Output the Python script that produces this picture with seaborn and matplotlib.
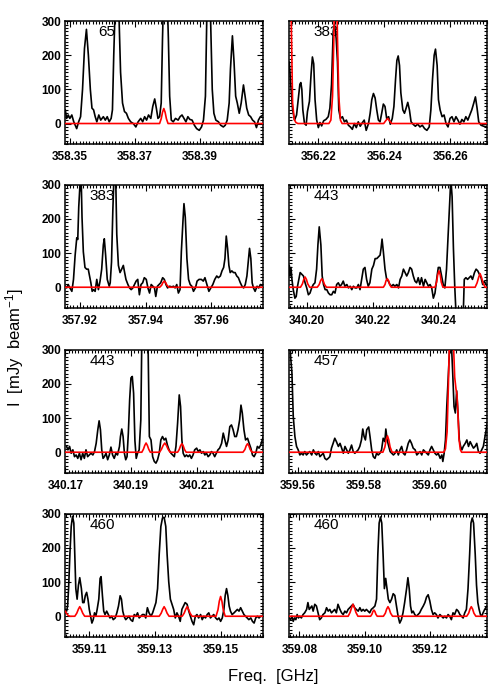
import matplotlib
matplotlib.use("Agg")
import matplotlib.pyplot as plt
from matplotlib.ticker import FixedLocator, MultipleLocator, FormatStrFormatter
import pandas as pd
import seaborn as sns

# ---------------- data ----------------
panel_labels = ["65", "383", "383", "443", "443", "457", "460", "460"]

tick_values = [
    [358.35, 358.37, 358.39],
    [356.22, 356.24, 356.26],
    [357.92, 357.94, 357.96],
    [340.20, 340.22, 340.24],
    [340.17, 340.19, 340.21],
    [359.56, 359.58, 359.60],
    [359.11, 359.13, 359.15],
    [359.08, 359.10, 359.12],
]

freq_ranges = [
    (358.3486, 358.4095),
    (356.2112, 356.2712),
    (357.9155, 357.9759),
    (340.1947, 340.2549),
    (340.1700, 340.2303),
    (359.5573, 359.6174),
    (359.1027, 359.1630),
    (359.0769, 359.1375),
]

# panel 1
p1_freq = [358.3486, 358.3490, 358.3495, 358.3500, 358.3506, 358.3512, 358.3521, 358.3527, 358.3533, 358.3539,
           358.3545, 358.3551, 358.3557, 358.3563, 358.3568, 358.3573, 358.3578, 358.3583, 358.3589, 358.3595,
           358.3603, 358.3609, 358.3615, 358.3621, 358.3627, 358.3631, 358.3635, 358.3640, 358.3646, 358.3651,
           358.3656, 358.3662, 358.3668, 358.3674, 358.3680, 358.3687, 358.3695, 358.3703, 358.3710, 358.3718,
           358.3724, 358.3730, 358.3736, 358.3742, 358.3749, 358.3755, 358.3761, 358.3766, 358.3771, 358.3776,
           358.3781, 358.3785, 358.3789, 358.3798, 358.3803, 358.3807, 358.3812, 358.3818, 358.3825, 358.3833,
           358.3839, 358.3845, 358.3851, 358.3857, 358.3863, 358.3869, 358.3876, 358.3883, 358.3890, 358.3898,
           358.3905, 358.3911, 358.3917, 358.3921, 358.3927, 358.3933, 358.3938, 358.3943, 358.3949, 358.3957,
           358.3964, 358.3972, 358.3978, 358.3984, 358.3990, 358.3994, 358.4000, 358.4005, 358.4010, 358.4015,
           358.4021, 358.4027, 358.4034, 358.4039, 358.4044, 358.4050, 358.4056, 358.4062, 358.4068, 358.4074,
           358.4080, 358.4086, 358.4095]
p1_flux = [40, 15, 25, 15, 25, 5, -15, 5, 20, 100,
           220, 276, 200, 100, 45, 40, 20, 5, 25, 10,
           20, 10, 20, 5, 15, 40, 200, 360, 380, 320,
           150, 60, 35, 30, 15, 5, 0, -10, 5, 15,
           5, 20, 10, 25, 15, 50, 72, 45, 15, 20,
           60, 250, 400, 420, 250, 80, 10, 5, 15, 10,
           20, 25, 15, 5, 20, 12, 10, -5, -15, -20,
           -10, 10, 80, 300, 420, 300, 100, 30, 10, 5,
           -5, -10, -5, 10, 60, 160, 257, 180, 80, 60,
           30, 60, 113, 80, 45, 25, 20, 10, 5, -12,
           10, 20, 25]
p1_model_freq = [358.3486, 358.3776, 358.3781, 358.3785, 358.3789, 358.3793, 358.3797, 358.3802, 358.4095]
p1_model_flux = [0, 0, 14, 33, 44, 33, 14, 0, 0]

# panel 2
p2_freq = [356.2112, 356.2116, 356.2122, 356.2128, 356.2134, 356.2139, 356.2144, 356.2147, 356.2150, 356.2153,
           356.2158, 356.2163, 356.2167, 356.2173, 356.2178, 356.2182, 356.2186, 356.2190, 356.2195, 356.2200,
           356.2205, 356.2210, 356.2216, 356.2223, 356.2230, 356.2235, 356.2240, 356.2245, 356.2249, 356.2254,
           356.2258, 356.2262, 356.2267, 356.2273, 356.2279, 356.2285, 356.2291, 356.2297, 356.2303, 356.2309,
           356.2315, 356.2321, 356.2327, 356.2333, 356.2339, 356.2345, 356.2352, 356.2357, 356.2362, 356.2367,
           356.2372, 356.2377, 356.2382, 356.2387, 356.2392, 356.2397, 356.2402, 356.2407, 356.2413, 356.2418,
           356.2424, 356.2429, 356.2434, 356.2438, 356.2442, 356.2446, 356.2450, 356.2456, 356.2461, 356.2466,
           356.2471, 356.2476, 356.2481, 356.2487, 356.2494, 356.2501, 356.2508, 356.2515, 356.2522, 356.2529,
           356.2536, 356.2541, 356.2546, 356.2551, 356.2555, 356.2560, 356.2564, 356.2569, 356.2575, 356.2581,
           356.2587, 356.2593, 356.2599, 356.2605, 356.2611, 356.2617, 356.2623, 356.2629, 356.2635, 356.2641,
           356.2647, 356.2653, 356.2659, 356.2665, 356.2671, 356.2676, 356.2681, 356.2686, 356.2693, 356.2701,
           356.2711]
p2_flux = [180, 120, 40, 10, 25, 70, 115, 120, 100, 40,
           0, -5, 35, 65, 145, 195, 175, 70, 10, -12,
           3, -7, 8, 12, 20, 45, 115, 270, 290, 250,
           180, 40, 15, 20, 5, 10, -5, -10, -17, 0,
           -12, 5, -8, 2, 10, -20, 0, 30, 70, 88,
           75, 40, 10, 5, 30, 57, 50, 15, 20, -2,
           15, 50, 130, 185, 198, 170, 90, 40, 30, 45,
           62, 40, 5, -2, -8, -2, -10, -5, -15, -20,
           -10, 40, 130, 200, 218, 170, 70, 40, 20, 25,
           0, -10, 15, 20, 5, 20, 10, -2, 12, 5,
           20, 10, 25, 40, 60, 78, 45, 5, -5, -8,
           -10]
p2_model_freq = [356.2112, 356.2117, 356.2122, 356.2127, 356.2132, 356.2138, 356.2232, 356.2238, 356.2243,
                 356.2247, 356.2250, 356.2255, 356.2258, 356.2262, 356.2267, 356.2272, 356.2398, 356.2404,
                 356.2410, 356.2416, 356.2422, 356.2712]
p2_model_flux = [600, 350, 60, 12, 3, 0, 0, 10, 80, 250, 420, 420, 250, 80, 10, 0, 0, 8, 15, 8, 0, 0]

# panel 3
p3_freq = [357.9155, 357.9159, 357.9164, 357.9169, 357.9175, 357.9180, 357.9185, 357.9190, 357.9193, 357.9196,
           357.9200, 357.9203, 357.9206, 357.9210, 357.9215, 357.9220, 357.9225, 357.9229, 357.9233, 357.9237,
           357.9241, 357.9246, 357.9251, 357.9256, 357.9261, 357.9266, 357.9271, 357.9274, 357.9278, 357.9283,
           357.9289, 357.9292, 357.9296, 357.9300, 357.9304, 357.9308, 357.9312, 357.9317, 357.9322, 357.9327,
           357.9332, 357.9336, 357.9340, 357.9346, 357.9351, 357.9356, 357.9361, 357.9366, 357.9371, 357.9376,
           357.9381, 357.9386, 357.9391, 357.9396, 357.9402, 357.9407, 357.9412, 357.9417, 357.9422, 357.9427,
           357.9431, 357.9436, 357.9441, 357.9446, 357.9452, 357.9457, 357.9462, 357.9467, 357.9473, 357.9480,
           357.9485, 357.9490, 357.9495, 357.9500, 357.9505, 357.9509, 357.9514, 357.9517, 357.9521, 357.9526,
           357.9531, 357.9536, 357.9541, 357.9546, 357.9552, 357.9557, 357.9563, 357.9570, 357.9576, 357.9581,
           357.9587, 357.9593, 357.9599, 357.9605, 357.9611, 357.9617, 357.9622, 357.9628, 357.9633, 357.9638,
           357.9642, 357.9646, 357.9650, 357.9654, 357.9658, 357.9663, 357.9668, 357.9673, 357.9678, 357.9683,
           357.9689, 357.9694, 357.9699, 357.9704, 357.9709, 357.9714, 357.9717, 357.9721, 357.9725, 357.9729,
           357.9734, 357.9740, 357.9745, 357.9750, 357.9760]
p3_flux = [3, -2, 8, -2, -12, 23, 94, 145, 140, 235,
           305, 340, 205, 104, 58, 53, 53, 33, 13, -12,
           -7, -12, 23, -7, 18, 53, 124, 142, 94, 23,
           3, 13, 74, 225, 340, 360, 155, 64, 43, 53,
           64, 43, 23, 8, -2, -7, -2, 8, 18, 23,
           -22, 8, 13, 28, 23, -2, -17, 8, 3, -2,
           -27, 3, 8, 13, 28, 23, 8, -2, 3, 1,
           3, -2, 8, -17, -7, 104, 195, 245, 205, 84,
           23, 8, 3, -12, -2, 18, 23, 23, 18, 28,
           8, -12, -2, 8, 23, 33, 28, 33, 48, 58,
           84, 150, 114, 64, 43, 48, 43, 43, 33, 28,
           13, 3, -2, 8, 33, 84, 114, 84, 13, -2,
           -12, 3, -2, 8, 3]
p3_model_freq = [357.9155, 357.9443, 357.9449, 357.9453, 357.9457, 357.9461, 357.9465, 357.9471, 357.9760]
p3_model_flux = [0, 0, 6, 14, 18, 14, 6, 0, 0]

# panel 4
p4_freq = [340.1947, 340.1949, 340.1952, 340.1955, 340.1959, 340.1964, 340.1968, 340.1972, 340.1976, 340.1980,
           340.1985, 340.1990, 340.1995, 340.2000, 340.2005, 340.2010, 340.2015, 340.2020, 340.2025, 340.2030,
           340.2034, 340.2038, 340.2043, 340.2047, 340.2051, 340.2056, 340.2061, 340.2066, 340.2071, 340.2076,
           340.2081, 340.2086, 340.2091, 340.2096, 340.2101, 340.2106, 340.2111, 340.2116, 340.2122, 340.2127,
           340.2132, 340.2137, 340.2142, 340.2147, 340.2152, 340.2157, 340.2162, 340.2167, 340.2172, 340.2177,
           340.2182, 340.2187, 340.2192, 340.2198, 340.2203, 340.2208, 340.2213, 340.2218, 340.2223, 340.2226,
           340.2229, 340.2233, 340.2238, 340.2243, 340.2248, 340.2253, 340.2258, 340.2263, 340.2268, 340.2274,
           340.2279, 340.2284, 340.2289, 340.2294, 340.2299, 340.2304, 340.2309, 340.2314, 340.2319, 340.2324,
           340.2329, 340.2334, 340.2339, 340.2344, 340.2349, 340.2355, 340.2360, 340.2365, 340.2370, 340.2375,
           340.2380, 340.2385, 340.2390, 340.2395, 340.2400, 340.2405, 340.2410, 340.2415, 340.2420, 340.2425,
           340.2431, 340.2436, 340.2438, 340.2442, 340.2446, 340.2450, 340.2454, 340.2462, 340.2472, 340.2476,
           340.2479, 340.2484, 340.2489, 340.2494, 340.2499, 340.2504, 340.2510, 340.2515, 340.2520, 340.2525,
           340.2530, 340.2535, 340.2540, 340.2545, 340.2549]
p4_flux = [64, 33, 58, 23, -7, -32, -27, 3, 23, 43,
           38, 33, 13, -2, -22, -17, -2, 8, 13, 53,
           124, 177, 124, 33, 8, -7, -7, -17, -22, -22,
           -12, -17, 8, 13, 3, 8, 18, 3, 8, -2,
           3, -7, 3, -2, -2, 8, -7, 23, 53, 58,
           23, 3, 13, 53, 64, 84, 84, 89, 94, 114,
           141, 104, 53, 23, 18, 8, 3, 8, 3, 8,
           -2, 23, 33, 53, 43, 33, 43, 58, 53, 33,
           18, 13, 28, 8, 28, 3, 23, 13, 3, 8,
           -2, -32, -17, 23, 58, 58, 33, 8, -2, 53,
           175, 275, 320, 265, 114, 3, -80, -80, -80, -75,
           23, 28, 23, 28, 33, 23, 43, 53, 48, 38,
           28, 8, 18, 8, 3]
p4_model_freq = [340.1947, 340.1981, 340.1987, 340.1991, 340.1995, 340.1999, 340.2003, 340.2009,
                 340.2032, 340.2038, 340.2042, 340.2046, 340.2050, 340.2054, 340.2060,
                 340.2233, 340.2238, 340.2241, 340.2245, 340.2249, 340.2252, 340.2257,
                 340.2390, 340.2395, 340.2398, 340.2402, 340.2406, 340.2409, 340.2414,
                 340.2512, 340.2518, 340.2523, 340.2527, 340.2531, 340.2536, 340.2542, 340.2549]
p4_model_flux = [0, 0, 10, 23, 30, 23, 10, 0,
                 0, 8, 19, 25, 19, 8, 0,
                 0, 8, 19, 25, 19, 8, 0,
                 0, 15, 36, 48, 36, 15, 0,
                 0, 13, 30, 40, 30, 13, 0, 0]

# panel 5
p5_freq = [340.1704, 340.1708, 340.1713, 340.1718, 340.1723, 340.1728, 340.1733, 340.1738, 340.1743, 340.1748,
           340.1753, 340.1758, 340.1763, 340.1768, 340.1773, 340.1778, 340.1784, 340.1789, 340.1794, 340.1799,
           340.1803, 340.1807, 340.1811, 340.1815, 340.1819, 340.1824, 340.1829, 340.1834, 340.1839, 340.1844,
           340.1849, 340.1854, 340.1859, 340.1865, 340.1868, 340.1872, 340.1876, 340.1880, 340.1884, 340.1888,
           340.1892, 340.1896, 340.1900, 340.1904, 340.1908, 340.1912, 340.1916, 340.1920, 340.1925, 340.1930,
           340.1933, 340.1938, 340.1944, 340.1949, 340.1952, 340.1956, 340.1961, 340.1966, 340.1971, 340.1976,
           340.1981, 340.1986, 340.1991, 340.1996, 340.2001, 340.2006, 340.2011, 340.2016, 340.2022, 340.2027,
           340.2032, 340.2037, 340.2042, 340.2047, 340.2051, 340.2055, 340.2059, 340.2064, 340.2069, 340.2074,
           340.2079, 340.2084, 340.2089, 340.2094, 340.2100, 340.2105, 340.2110, 340.2115, 340.2120, 340.2125,
           340.2130, 340.2135, 340.2140, 340.2145, 340.2150, 340.2155, 340.2160, 340.2165, 340.2170, 340.2176,
           340.2181, 340.2186, 340.2191, 340.2196, 340.2201, 340.2206, 340.2211, 340.2216, 340.2221, 340.2226,
           340.2231, 340.2235, 340.2239, 340.2244, 340.2249, 340.2255, 340.2260, 340.2265, 340.2270, 340.2275,
           340.2280, 340.2285, 340.2290, 340.2295, 340.2303]
p5_flux = [17, 7, 17, -3, 7, -13, -8, -18, -3, -22,
           -3, -18, 7, -13, -8, -3, -8, 2, 26, 66,
           92, 66, 7, -18, -13, -3, -22, -8, 15, -8,
           -18, -3, -8, 17, 46, 68, 46, -3, -22, -13,
           56, 154, 218, 222, 173, 34, -18, -3, 7, 95,
           330, 400, 400, 380, 320, 46, 36, -13, -27, -32,
           -22, -3, 36, 46, 36, 41, 21, 7, -3, -8,
           -13, 17, 85, 168, 134, 36, -3, -13, -8, -13,
           -8, -18, -8, 7, 12, 2, 7, -3, 2, -8,
           -3, -13, -8, 2, -3, -13, -3, 7, 12, 26,
           56, 36, 17, 36, 75, 80, 66, 46, 46, 66,
           95, 138, 115, 66, 36, 41, 26, 12, -8, -13,
           -3, 17, 12, 21, 46]
p5_model_freq = [340.1700, 340.1933, 340.1938, 340.1942, 340.1946, 340.1950, 340.1954, 340.1959,
                 340.1987, 340.1993, 340.1998, 340.2003, 340.2008, 340.2013, 340.2019,
                 340.2042, 340.2047, 340.2051, 340.2055, 340.2059, 340.2063, 340.2068,
                 340.2241, 340.2247, 340.2251, 340.2255, 340.2259, 340.2263, 340.2269, 340.2304]
p5_model_flux = [0, 0, 9, 20, 27, 20, 9, 0,
                 0, 9, 20, 27, 20, 9, 0,
                 0, 8, 19, 25, 19, 8, 0,
                 0, 8, 19, 25, 19, 8, 0, 0]

# panel 6
p6_freq = [359.5573, 359.5577, 359.5581, 359.5585, 359.5590, 359.5595, 359.5600, 359.5605, 359.5610, 359.5615,
           359.5620, 359.5625, 359.5630, 359.5635, 359.5641, 359.5646, 359.5651, 359.5656, 359.5661, 359.5666,
           359.5671, 359.5676, 359.5681, 359.5686, 359.5691, 359.5696, 359.5701, 359.5706, 359.5711, 359.5716,
           359.5722, 359.5727, 359.5732, 359.5737, 359.5742, 359.5747, 359.5752, 359.5757, 359.5762, 359.5767,
           359.5772, 359.5777, 359.5782, 359.5787, 359.5792, 359.5796, 359.5800, 359.5804, 359.5808, 359.5814,
           359.5818, 359.5823, 359.5828, 359.5833, 359.5838, 359.5843, 359.5848, 359.5853, 359.5858, 359.5863,
           359.5866, 359.5870, 359.5875, 359.5879, 359.5884, 359.5889, 359.5894, 359.5899, 359.5904, 359.5909,
           359.5914, 359.5919, 359.5924, 359.5929, 359.5934, 359.5939, 359.5944, 359.5949, 359.5955, 359.5960,
           359.5965, 359.5970, 359.5975, 359.5980, 359.5985, 359.5990, 359.5995, 359.6000, 359.6005, 359.6010,
           359.6015, 359.6020, 359.6025, 359.6031, 359.6036, 359.6039, 359.6043, 359.6047, 359.6051, 359.6056,
           359.6061, 359.6065, 359.6069, 359.6073, 359.6077, 359.6081, 359.6085, 359.6089, 359.6093, 359.6097,
           359.6101, 359.6107, 359.6112, 359.6117, 359.6122, 359.6127, 359.6132, 359.6137, 359.6142, 359.6147,
           359.6152, 359.6157, 359.6162, 359.6167, 359.6174]
p6_flux = [400, 280, 232, 105, 46, 17, 7, -8, -3, -8,
           2, -8, -3, 2, -8, 7, -3, -8, 2, -13,
           -8, -3, -18, -22, -18, -13, 12, 26, 41, 31,
           17, 26, 12, -3, 17, 7, -3, 7, 21, 2,
           -3, 2, 7, 17, 36, 68, 46, 36, 66, 74,
           46, 7, -13, -18, -3, -8, -3, 7, 41, 31,
           68, 36, 17, 2, -3, -8, -3, 7, -8, 7,
           17, -3, -8, 7, 26, 36, 26, 12, 7, -8,
           -3, 2, -8, 7, 2, -3, -8, 7, 17, 7,
           -3, -8, -3, -18, -8, -27, -3, 36, 134, 232,
           330, 320, 232, 134, 115, 180, 115, 36, 17, 7,
           17, 26, 36, 17, 31, 21, 12, 17, 26, 2,
           -3, 7, 17, 46, 85]
p6_model_freq = [359.5573, 359.5857, 359.5863, 359.5867, 359.5871, 359.5875, 359.5879, 359.5885,
                 359.6042, 359.6047, 359.6052, 359.6056, 359.6059, 359.6062, 359.6068, 359.6072,
                 359.6075, 359.6079, 359.6082, 359.6085, 359.6088, 359.6092, 359.6096, 359.6174]
p6_model_flux = [0, 0, 15, 36, 48, 36, 15, 0,
                 0, 10, 60, 200, 330, 420, 420, 300,
                 220, 185, 170, 110, 40, 8, 0, 0]

# panel 7
p7_freq = [359.1027, 359.1031, 359.1034, 359.1037, 359.1041, 359.1045, 359.1049, 359.1053, 359.1056, 359.1059,
           359.1063, 359.1067, 359.1071, 359.1076, 359.1080, 359.1084, 359.1088, 359.1092, 359.1096, 359.1100,
           359.1104, 359.1108, 359.1112, 359.1116, 359.1120, 359.1124, 359.1129, 359.1133, 359.1136, 359.1140,
           359.1144, 359.1148, 359.1153, 359.1158, 359.1163, 359.1168, 359.1173, 359.1179, 359.1184, 359.1189,
           359.1194, 359.1198, 359.1202, 359.1206, 359.1211, 359.1216, 359.1221, 359.1226, 359.1232, 359.1237,
           359.1242, 359.1247, 359.1252, 359.1257, 359.1262, 359.1267, 359.1272, 359.1277, 359.1282, 359.1288,
           359.1293, 359.1298, 359.1303, 359.1308, 359.1313, 359.1318, 359.1323, 359.1328, 359.1333, 359.1337,
           359.1342, 359.1347, 359.1352, 359.1357, 359.1362, 359.1367, 359.1372, 359.1377, 359.1382, 359.1387,
           359.1392, 359.1398, 359.1403, 359.1408, 359.1413, 359.1418, 359.1423, 359.1428, 359.1433, 359.1439,
           359.1444, 359.1449, 359.1454, 359.1459, 359.1464, 359.1469, 359.1474, 359.1479, 359.1485, 359.1490,
           359.1495, 359.1500, 359.1505, 359.1510, 359.1514, 359.1518, 359.1522, 359.1526, 359.1530, 359.1535,
           359.1541, 359.1546, 359.1551, 359.1556, 359.1561, 359.1566, 359.1571, 359.1576, 359.1581, 359.1586,
           359.1592, 359.1597, 359.1602, 359.1607, 359.1612, 359.1617, 359.1622, 359.1632]
p7_flux = [20, 15, 30, 81, 182, 263, 293, 273, 182, 81,
           50, 91, 113, 81, 40, 40, 61, 70, 50, 20,
           0, -20, -10, 10, 0, 20, 50, 111, 116, 61,
           15, 5, 15, 5, -5, 0, -10, -5, 10, 30,
           60, 50, 15, 0, -10, -5, 0, -10, -15, 5,
           0, 10, -5, 0, 5, 5, -5, 25, 10, 0,
           10, 25, 40, 81, 182, 263, 288, 290, 263, 182,
           101, 50, 35, 20, -5, 10, 0, -15, 20, 30,
           40, 35, 15, 0, -15, -25, 0, 5, -5, 5,
           -10, 0, -5, 5, 10, -5, 0, 5, -5, -10,
           -5, -15, -5, 20, 61, 81, 61, 30, 15, 5,
           10, 15, 20, 15, 25, 15, 5, 0, -5, -10,
           -5, -15, -20, -5, 0, -5, 0, 0]
p7_model_freq = [359.1027, 359.1031, 359.1036, 359.1041,
                 359.1056, 359.1062, 359.1067, 359.1071, 359.1075, 359.1080, 359.1086,
                 359.1313, 359.1319, 359.1324, 359.1328, 359.1332, 359.1337, 359.1343,
                 359.1383, 359.1389, 359.1394, 359.1398, 359.1402, 359.1407, 359.1413,
                 359.1486, 359.1492, 359.1496, 359.1500, 359.1504, 359.1508, 359.1514, 359.1632]
p7_model_flux = [15, 8, 2, 0,
                 0, 9, 21, 28, 21, 9, 0,
                 0, 9, 21, 28, 21, 9, 0,
                 0, 9, 21, 28, 21, 9, 0,
                 0, 19, 44, 58, 44, 19, 0, 0]

# panel 8
p8_freq = [359.0768, 359.0773, 359.0777, 359.0781, 359.0785, 359.0789, 359.0793, 359.0797, 359.0801, 359.0806,
           359.0811, 359.0816, 359.0822, 359.0826, 359.0830, 359.0834, 359.0838, 359.0842, 359.0847, 359.0852,
           359.0857, 359.0862, 359.0867, 359.0872, 359.0878, 359.0883, 359.0888, 359.0893, 359.0898, 359.0903,
           359.0908, 359.0913, 359.0918, 359.0924, 359.0929, 359.0934, 359.0939, 359.0944, 359.0949, 359.0954,
           359.0959, 359.0964, 359.0969, 359.0974, 359.0980, 359.0985, 359.0990, 359.0995, 359.1000, 359.1005,
           359.1010, 359.1015, 359.1020, 359.1026, 359.1031, 359.1036, 359.1040, 359.1044, 359.1048, 359.1052,
           359.1056, 359.1060, 359.1064, 359.1068, 359.1072, 359.1077, 359.1082, 359.1087, 359.1092, 359.1097,
           359.1102, 359.1107, 359.1112, 359.1117, 359.1122, 359.1128, 359.1132, 359.1136, 359.1140, 359.1144,
           359.1148, 359.1153, 359.1158, 359.1163, 359.1168, 359.1173, 359.1179, 359.1184, 359.1189, 359.1194,
           359.1199, 359.1204, 359.1209, 359.1214, 359.1219, 359.1224, 359.1230, 359.1235, 359.1240, 359.1245,
           359.1250, 359.1255, 359.1260, 359.1265, 359.1270, 359.1275, 359.1281, 359.1286, 359.1291, 359.1296,
           359.1301, 359.1306, 359.1311, 359.1316, 359.1321, 359.1325, 359.1329, 359.1333, 359.1338, 359.1342,
           359.1346, 359.1350, 359.1354, 359.1358, 359.1362, 359.1367, 359.1374]
p8_flux = [-5, -10, 0, -15, -5, -10, 5, -5, 0, -5,
           5, 10, 20, 40, 20, 25, 30, 15, 35, 30,
           10, -10, -5, 5, 10, 25, 15, 20, 10, 15,
           20, 10, 35, 20, 10, 5, 15, 10, 20, 25,
           30, 35, 25, 20, 15, 25, 15, 20, 15, 20,
           15, 10, 20, 25, 30, 50, 182, 273, 291, 273,
           182, 81, 111, 81, 50, 40, 50, 66, 61, 30,
           0, -20, -10, 10, 40, 81, 113, 81, 30, 10,
           15, 5, 0, 5, 10, 20, 30, 40, 56, 63,
           45, 20, 5, 10, 5, -5, 5, 0, -5, 0,
           -5, 5, 0, -10, 10, 5, 20, 15, 5, 0,
           -5, 10, 20, 81, 182, 273, 288, 273, 182, 91,
           40, 20, 5, 0, 10, 20, 30]
p8_model_freq = [359.0768, 359.0949, 359.0955, 359.0960, 359.0964, 359.0968, 359.0973, 359.0979,
                 359.1018, 359.1022, 359.1025, 359.1028, 359.1031, 359.1034, 359.1038,
                 359.1057, 359.1063, 359.1067, 359.1071, 359.1075, 359.1079, 359.1085,
                 359.1312, 359.1318, 359.1322, 359.1326, 359.1330, 359.1334, 359.1340, 359.1374]
p8_model_flux = [0, 0, 11, 26, 35, 26, 11, 0,
                 0, 6, 14, 18, 14, 6, 0,
                 0, 9, 21, 28, 21, 9, 0,
                 0, 9, 21, 28, 21, 9, 0, 0]

observed = [(p1_freq, p1_flux), (p2_freq, p2_flux), (p3_freq, p3_flux), (p4_freq, p4_flux),
            (p5_freq, p5_flux), (p6_freq, p6_flux), (p7_freq, p7_flux), (p8_freq, p8_flux)]
models = [(p1_model_freq, p1_model_flux), (p2_model_freq, p2_model_flux),
          (p3_model_freq, p3_model_flux), (p4_model_freq, p4_model_flux),
          (p5_model_freq, p5_model_flux), (p6_model_freq, p6_model_flux),
          (p7_model_freq, p7_model_flux), (p8_model_freq, p8_model_flux)]

# ---------------- plotting ----------------
sns.set_theme(style="ticks")
plt.rcParams["font.family"] = ["Liberation Sans", "DejaVu Sans"]
plt.rcParams["mathtext.default"] = "regular"
plt.rcParams["text.color"] = "black"
plt.rcParams["axes.labelcolor"] = "black"
plt.rcParams["xtick.color"] = "black"
plt.rcParams["ytick.color"] = "black"

fig = plt.figure(figsize=(5, 7), dpi=100)

col_x = [0.1306, 0.5786]
row_y = [0.7943, 0.5604, 0.3247, 0.0904]
ax_w, ax_h = 0.396, 0.1755

for k in range(8):
    r, c = divmod(k, 2)
    ax = fig.add_axes([col_x[c], row_y[r], ax_w, ax_h])
    f_obs, i_obs = observed[k]
    f_mod, i_mod = models[k]
    df_obs = pd.DataFrame({"freq": f_obs, "flux": i_obs})
    df_mod = pd.DataFrame({"freq": f_mod, "flux": i_mod})
    sns.lineplot(data=df_obs, x="freq", y="flux", ax=ax, color="black",
                 linewidth=1.2, estimator=None, sort=False, zorder=3)
    sns.lineplot(data=df_mod, x="freq", y="flux", ax=ax, color="#ff0000",
                 linewidth=1.2, estimator=None, sort=False, zorder=4)
    ax.set_xlim(*freq_ranges[k])
    ax.set_ylim(-60, 300)
    ax.set_xlabel("")
    ax.set_ylabel("")
    ax.xaxis.set_major_locator(FixedLocator(tick_values[k]))
    ax.xaxis.set_major_formatter(FormatStrFormatter("%.2f"))
    ax.xaxis.set_minor_locator(MultipleLocator(0.001))
    ax.yaxis.set_major_locator(FixedLocator([0, 100, 200, 300]))
    ax.yaxis.set_major_formatter(FormatStrFormatter("%d"))
    ax.yaxis.set_minor_locator(MultipleLocator(10))
    ax.tick_params(which="both", direction="in", top=True, right=True,
                   colors="black", width=0.8)
    ax.tick_params(which="major", length=4)
    ax.tick_params(which="minor", length=2)
    ax.tick_params(axis="x", which="major", pad=5)
    ax.tick_params(axis="y", which="major", pad=3)
    for lab in ax.get_xticklabels() + ax.get_yticklabels():
        lab.set_fontweight("bold")
        lab.set_fontsize(8.5)
        lab.set_color("black")
    if c == 1:
        ax.tick_params(axis="y", labelleft=False)
    for sp in ax.spines.values():
        sp.set_linewidth(1.1)
        sp.set_color("black")
    ax.text(0.25, 0.91, panel_labels[k], transform=ax.transAxes, ha="right",
            va="center", fontsize=11, color="black", zorder=1)

fig.text(0.546, 0.033, "Freq.  [GHz]", ha="center", va="center", fontsize=12, color="black")
fig.text(0.03, 0.504, "I  [mJy  beam$^{-1}$]", ha="center", va="center",
         rotation=90, fontsize=12, color="black")

fig.savefig("out.png", dpi=100)
